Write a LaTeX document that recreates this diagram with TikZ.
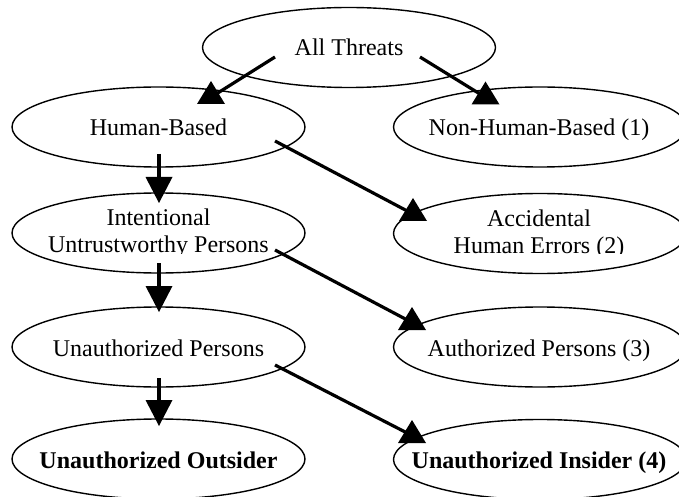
\documentclass[tikz,border=0pt]{standalone}
\usepackage{fontspec}
\setmainfont{Liberation Serif}
\usetikzlibrary{shapes.geometric,calc}
\begin{document}
\begin{tikzpicture}[x=0.5pt,y=-0.5pt,
  oval/.style={ellipse,draw,line width=0.7pt,minimum width=146.5pt,minimum height=40pt,inner sep=0pt},
  txt/.style={anchor=base,inner sep=0pt,font=\fontsize{12}{14}\selectfont},
  btxt/.style={txt,font=\fontsize{12}{14}\selectfont\bfseries},
  link/.style={line width=1.6pt},
  headup/.pic={\fill (-14,0) -- (14,0) -- (0,-23) -- cycle;},
  headdown/.pic={\fill (-13.5,0) -- (13.5,0) -- (0,26) -- cycle;}]
\useasboundingbox (0,0) rectangle (679,497);
\clip (0,0) rectangle (679,497);
\fill[white] (0,0) rectangle (679,497);

% ovals
\node[oval] (all) at (349,47.5) {};
\node[oval] (hb)  at (158.5,127) {};
\node[oval] (nhb) at (540,127) {};
\node[oval] (int) at (158.5,233) {};
\node[oval] (acc) at (540,233.5) {};
\node[oval] (unp) at (158.5,347) {};
\node[oval] (aut) at (540,347) {};
\node[oval] (out) at (158.5,459) {};
\node[oval] (ins) at (540,459.5) {};

% labels
\node[txt] (allt) at ($(all)+(0,8.5)$) {All Threats};
\node[txt] (hbt)  at ($(hb)+(0,9)$) {Human-Based};
\node[txt] (nhbt) at ($(nhb)+(-1,9)$) {Non-Human-Based (1)};
\node[txt] (intt1) at ($(int)+(0,-7)$) {Intentional};
\node[txt] (acct1) at ($(acc)+(-1,-6.5)$) {Accidental};
\begin{scope}
  \clip (0,200) rectangle (679,253.7);
  \node[txt] (intt2) at ($(int)+(0,19)$) {Untrustworthy Persons};
  \node[txt] (acct2) at ($(acc)+(-1,19.5)$) {Human Errors (2)};
\end{scope}
\node[txt] (unpt) at ($(unp)+(0,9)$) {Unauthorized Persons};
\node[txt] (autt) at ($(aut)+(-1,9)$) {Authorized Persons (3)};
\node[btxt] (outt) at ($(out)+(0,9)$) {Unauthorized Outsider};
\node[btxt] (inst) at ($(ins)+(-1,9)$) {Unauthorized Insider (4)};

% connector ends
\coordinate (s1) at ($(all)+(-74,9.5)$);
\coordinate (h1) at ($(hb)+(52.5,-23)$);
\coordinate (s2) at ($(all)+(71,9.5)$);
\coordinate (h2) at ($(nhb)+(-54.5,-22.5)$);
\coordinate (s3) at ($(hb)+(116.5,14)$);
\coordinate (h3) at ($(acc)+(-127,-12.5)$);
\coordinate (s4) at ($(int)+(116.5,17)$);
\coordinate (h4) at ($(aut)+(-128,-17)$);
\coordinate (s5) at ($(unp)+(116.5,18)$);
\coordinate (h5) at ($(ins)+(-128,-16.5)$);
\coordinate (s6) at ($(hb)+(0.5,27)$);
\coordinate (h6) at ($(int)+(0.5,-56)$);
\coordinate (s7) at ($(int)+(0.5,30)$);
\coordinate (h7) at ($(unp)+(0.5,-61)$);
\coordinate (s8) at ($(unp)+(0.5,31)$);
\coordinate (h8) at ($(out)+(0.5,-59)$);

% diagonal connectors
\draw[link] (s1) -- ($(h1)+(2,-8)$);
\pic at (h1) {headup};
\draw[link] (s2) -- ($(h2)+(-1.5,-8)$);
\pic at (h2) {headup};
\draw[link] (s3) -- ($(h3)+(-2,-8)$);
\pic at (h3) {headup};
\draw[link] (s4) -- ($(h4)+(-1,-8)$);
\pic at (h4) {headup};
\draw[link] (s5) -- ($(h5)+(-1,-8)$);
\pic at (h5) {headup};

% vertical connectors
\draw[link] (s6) -- ($(h6)+(0,1)$);
\pic at (h6) {headdown};
\draw[link] (s7) -- ($(h7)+(0,1)$);
\pic at (h7) {headdown};
\draw[link] (s8) -- ($(h8)+(0,1)$);
\pic at (h8) {headdown};
\end{tikzpicture}
\end{document}
